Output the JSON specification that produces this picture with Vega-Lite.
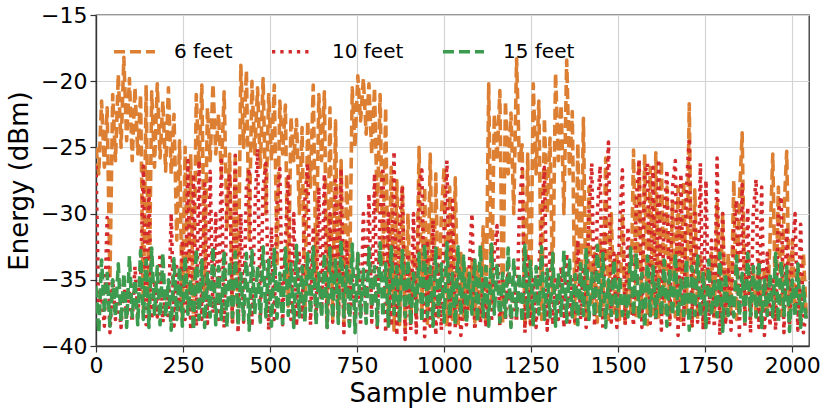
{
  "$schema": "https://vega.github.io/schema/vega-lite/v6.json",
  "description": "Received energy over samples at three distances",
  "width": 713,
  "height": 331,
  "autosize": {"type": "none"},
  "padding": {"left": 96, "top": 15, "right": 22, "bottom": 66},
  "config": {
    "font": "DejaVu Sans",
    "view": {"stroke": "#333333", "strokeWidth": 1.3},
    "axis": {
      "grid": true,
      "gridColor": "#d4d4d4",
      "gridWidth": 1.2,
      "domainColor": "#333333",
      "domainWidth": 1.3,
      "tickColor": "#333333",
      "tickSize": 6,
      "tickWidth": 1.2,
      "labelFontSize": 22,
      "labelColor": "#000000",
      "titleFontSize": 26,
      "titleFontWeight": "normal",
      "titleColor": "#000000",
      "labelOverlap": false
    },
    "legend": {"labelColor": "#000000", "labelFontWeight": "normal"}
  },
  "data": {
    "values": [
      {"f":6,"n":0,"e":-25},{"f":6,"n":8,"e":-27},{"f":6,"n":16,"e":-21.5},{"f":6,"n":24,"e":-26.5},{"f":6,"n":32,"e":-22},{"f":6,"n":40,"e":-35},{"f":6,"n":48,"e":-21},{"f":6,"n":56,"e":-26},
      {"f":6,"n":64,"e":-19.5},{"f":6,"n":72,"e":-25},{"f":6,"n":80,"e":-18.2},{"f":6,"n":88,"e":-24.5},{"f":6,"n":96,"e":-19.8},{"f":6,"n":104,"e":-26},{"f":6,"n":112,"e":-20.5},{"f":6,"n":120,"e":-25.5},
      {"f":6,"n":128,"e":-21},{"f":6,"n":136,"e":-37.5},{"f":6,"n":144,"e":-20.3},{"f":6,"n":152,"e":-38},{"f":6,"n":160,"e":-20.8},{"f":6,"n":168,"e":-26.5},{"f":6,"n":176,"e":-20.2},{"f":6,"n":184,"e":-25.8},
      {"f":6,"n":192,"e":-21.5},{"f":6,"n":200,"e":-26.8},{"f":6,"n":208,"e":-20.5},{"f":6,"n":216,"e":-27},{"f":6,"n":224,"e":-22.5},{"f":6,"n":232,"e":-32},{"f":6,"n":240,"e":-24.5},{"f":6,"n":248,"e":-38},
      {"f":6,"n":256,"e":-25},{"f":6,"n":264,"e":-37.5},{"f":6,"n":272,"e":-25.5},{"f":6,"n":280,"e":-38.2},{"f":6,"n":288,"e":-21},{"f":6,"n":296,"e":-26.5},{"f":6,"n":304,"e":-20.3},{"f":6,"n":312,"e":-36},
      {"f":6,"n":320,"e":-22},{"f":6,"n":328,"e":-26},{"f":6,"n":336,"e":-20.2},{"f":6,"n":344,"e":-25.5},{"f":6,"n":352,"e":-22.5},{"f":6,"n":360,"e":-27},{"f":6,"n":368,"e":-20.8},{"f":6,"n":376,"e":-31},
      {"f":6,"n":384,"e":-25.5},{"f":6,"n":392,"e":-38.2},{"f":6,"n":400,"e":-25.8},{"f":6,"n":408,"e":-37.8},{"f":6,"n":416,"e":-18.8},{"f":6,"n":424,"e":-25},{"f":6,"n":432,"e":-19.2},{"f":6,"n":440,"e":-32},
      {"f":6,"n":448,"e":-20},{"f":6,"n":456,"e":-25.5},{"f":6,"n":464,"e":-20.5},{"f":6,"n":472,"e":-26.5},{"f":6,"n":480,"e":-19.8},{"f":6,"n":488,"e":-30},{"f":6,"n":496,"e":-21},{"f":6,"n":504,"e":-26},
      {"f":6,"n":512,"e":-20.3},{"f":6,"n":520,"e":-34},{"f":6,"n":528,"e":-21.5},{"f":6,"n":536,"e":-25.5},{"f":6,"n":544,"e":-21.8},{"f":6,"n":552,"e":-37},{"f":6,"n":560,"e":-22.7},{"f":6,"n":568,"e":-26},
      {"f":6,"n":576,"e":-22.9},{"f":6,"n":584,"e":-30},{"f":6,"n":592,"e":-23.5},{"f":6,"n":600,"e":-38},{"f":6,"n":608,"e":-23},{"f":6,"n":616,"e":-28},{"f":6,"n":624,"e":-20.3},{"f":6,"n":632,"e":-35},
      {"f":6,"n":640,"e":-21},{"f":6,"n":648,"e":-26},{"f":6,"n":656,"e":-20.8},{"f":6,"n":664,"e":-38.2},{"f":6,"n":672,"e":-22},{"f":6,"n":680,"e":-38},{"f":6,"n":688,"e":-23},{"f":6,"n":696,"e":-37.8},
      {"f":6,"n":704,"e":-26},{"f":6,"n":712,"e":-38.4},{"f":6,"n":720,"e":-27},{"f":6,"n":728,"e":-36},{"f":6,"n":736,"e":-20.5},{"f":6,"n":744,"e":-25},{"f":6,"n":752,"e":-19.6},{"f":6,"n":760,"e":-23},
      {"f":6,"n":768,"e":-19.8},{"f":6,"n":776,"e":-24},{"f":6,"n":784,"e":-20.2},{"f":6,"n":792,"e":-25.5},{"f":6,"n":800,"e":-20.5},{"f":6,"n":808,"e":-30},{"f":6,"n":816,"e":-21},{"f":6,"n":824,"e":-34},
      {"f":6,"n":832,"e":-22},{"f":6,"n":840,"e":-38.5},{"f":6,"n":848,"e":-26.5},{"f":6,"n":856,"e":-38.8},{"f":6,"n":864,"e":-27.5},{"f":6,"n":872,"e":-38.4},{"f":6,"n":880,"e":-28},{"f":6,"n":888,"e":-38.7},
      {"f":6,"n":896,"e":-30},{"f":6,"n":904,"e":-38.2},{"f":6,"n":912,"e":-33},{"f":6,"n":920,"e":-38},{"f":6,"n":928,"e":-25},{"f":6,"n":936,"e":-37.5},{"f":6,"n":944,"e":-28},{"f":6,"n":952,"e":-38.3},
      {"f":6,"n":960,"e":-25.5},{"f":6,"n":968,"e":-38},{"f":6,"n":976,"e":-27},{"f":6,"n":984,"e":-37.8},{"f":6,"n":992,"e":-30},{"f":6,"n":1000,"e":-26.5},{"f":6,"n":1008,"e":-38.5},{"f":6,"n":1016,"e":-28},
      {"f":6,"n":1024,"e":-38},{"f":6,"n":1032,"e":-27.3},{"f":6,"n":1040,"e":-38.6},{"f":6,"n":1048,"e":-33},{"f":6,"n":1056,"e":-38},{"f":6,"n":1064,"e":-34},{"f":6,"n":1072,"e":-37.5},{"f":6,"n":1080,"e":-33.5},
      {"f":6,"n":1088,"e":-38.2},{"f":6,"n":1096,"e":-34},{"f":6,"n":1104,"e":-38},{"f":6,"n":1112,"e":-31},{"f":6,"n":1120,"e":-38.5},{"f":6,"n":1128,"e":-20.2},{"f":6,"n":1136,"e":-37},{"f":6,"n":1144,"e":-22.5},
      {"f":6,"n":1152,"e":-26},{"f":6,"n":1160,"e":-20.7},{"f":6,"n":1168,"e":-38.4},{"f":6,"n":1176,"e":-21.5},{"f":6,"n":1184,"e":-27},{"f":6,"n":1192,"e":-22.4},{"f":6,"n":1200,"e":-30},{"f":6,"n":1208,"e":-18.3},
      {"f":6,"n":1216,"e":-26},{"f":6,"n":1224,"e":-24.8},{"f":6,"n":1232,"e":-38.5},{"f":6,"n":1240,"e":-25.5},{"f":6,"n":1248,"e":-38.4},{"f":6,"n":1256,"e":-20.2},{"f":6,"n":1264,"e":-27},{"f":6,"n":1272,"e":-21.5},
      {"f":6,"n":1280,"e":-38},{"f":6,"n":1288,"e":-22.8},{"f":6,"n":1296,"e":-30},{"f":6,"n":1304,"e":-24.3},{"f":6,"n":1312,"e":-36},{"f":6,"n":1320,"e":-19.4},{"f":6,"n":1328,"e":-26},{"f":6,"n":1336,"e":-21.8},
      {"f":6,"n":1344,"e":-30},{"f":6,"n":1352,"e":-18.4},{"f":6,"n":1360,"e":-27},{"f":6,"n":1368,"e":-22.3},{"f":6,"n":1376,"e":-38.3},{"f":6,"n":1384,"e":-24.7},{"f":6,"n":1392,"e":-37.5},{"f":6,"n":1400,"e":-22.8},
      {"f":6,"n":1408,"e":-38},{"f":6,"n":1416,"e":-28},{"f":6,"n":1424,"e":-37},{"f":6,"n":1432,"e":-33},{"f":6,"n":1440,"e":-38.2},{"f":6,"n":1448,"e":-32},{"f":6,"n":1456,"e":-37.8},{"f":6,"n":1464,"e":-25.8},
      {"f":6,"n":1472,"e":-38},{"f":6,"n":1480,"e":-30},{"f":6,"n":1488,"e":-37.5},{"f":6,"n":1496,"e":-33},{"f":6,"n":1504,"e":-38},{"f":6,"n":1512,"e":-30},{"f":6,"n":1520,"e":-38.3},{"f":6,"n":1528,"e":-34},
      {"f":6,"n":1536,"e":-37.5},{"f":6,"n":1544,"e":-25.2},{"f":6,"n":1552,"e":-38},{"f":6,"n":1560,"e":-26},{"f":6,"n":1568,"e":-37.8},{"f":6,"n":1576,"e":-25.5},{"f":6,"n":1584,"e":-38.4},{"f":6,"n":1592,"e":-26.5},
      {"f":6,"n":1600,"e":-37.6},{"f":6,"n":1608,"e":-25.4},{"f":6,"n":1616,"e":-38},{"f":6,"n":1624,"e":-26},{"f":6,"n":1632,"e":-37.5},{"f":6,"n":1640,"e":-28},{"f":6,"n":1648,"e":-38},{"f":6,"n":1656,"e":-29},
      {"f":6,"n":1664,"e":-37.8},{"f":6,"n":1672,"e":-28},{"f":6,"n":1680,"e":-38.3},{"f":6,"n":1688,"e":-27.5},{"f":6,"n":1696,"e":-37.5},{"f":6,"n":1704,"e":-21.7},{"f":6,"n":1712,"e":-38.5},{"f":6,"n":1720,"e":-28.2},
      {"f":6,"n":1728,"e":-38},{"f":6,"n":1736,"e":-33},{"f":6,"n":1744,"e":-38.3},{"f":6,"n":1752,"e":-34},{"f":6,"n":1760,"e":-37.6},{"f":6,"n":1768,"e":-33},{"f":6,"n":1776,"e":-38},{"f":6,"n":1784,"e":-29.2},
      {"f":6,"n":1792,"e":-37.8},{"f":6,"n":1800,"e":-30},{"f":6,"n":1808,"e":-38.2},{"f":6,"n":1816,"e":-33},{"f":6,"n":1824,"e":-37.5},{"f":6,"n":1832,"e":-27.5},{"f":6,"n":1840,"e":-38},{"f":6,"n":1848,"e":-29},
      {"f":6,"n":1856,"e":-23.9},{"f":6,"n":1864,"e":-37.5},{"f":6,"n":1872,"e":-33},{"f":6,"n":1880,"e":-38},{"f":6,"n":1888,"e":-34},{"f":6,"n":1896,"e":-37.8},{"f":6,"n":1904,"e":-33.5},{"f":6,"n":1912,"e":-38.3},
      {"f":6,"n":1920,"e":-34},{"f":6,"n":1928,"e":-37.5},{"f":6,"n":1936,"e":-32},{"f":6,"n":1944,"e":-25.5},{"f":6,"n":1952,"e":-38},{"f":6,"n":1960,"e":-28},{"f":6,"n":1968,"e":-37.7},{"f":6,"n":1976,"e":-30},
      {"f":6,"n":1984,"e":-25.3},{"f":6,"n":1992,"e":-38.2},{"f":6,"n":2000,"e":-32},{"f":6,"n":2008,"e":-37.5},{"f":6,"n":2016,"e":-34},{"f":6,"n":2024,"e":-37.8},{"f":6,"n":2032,"e":-33},{"f":6,"n":2040,"e":-37.6},

      {"f":10,"n":0,"e":-26.4},{"f":10,"n":8,"e":-37.5},{"f":10,"n":16,"e":-36},{"f":10,"n":24,"e":-38.5},{"f":10,"n":32,"e":-30.3},{"f":10,"n":40,"e":-39},{"f":10,"n":48,"e":-35},{"f":10,"n":56,"e":-38},
      {"f":10,"n":64,"e":-36.5},{"f":10,"n":72,"e":-38.6},{"f":10,"n":80,"e":-35},{"f":10,"n":88,"e":-37.8},{"f":10,"n":96,"e":-36},{"f":10,"n":104,"e":-38.2},{"f":10,"n":112,"e":-34},{"f":10,"n":120,"e":-37.6},
      {"f":10,"n":128,"e":-35},{"f":10,"n":136,"e":-26.4},{"f":10,"n":144,"e":-38.4},{"f":10,"n":152,"e":-28},{"f":10,"n":160,"e":-38},{"f":10,"n":168,"e":-35},{"f":10,"n":176,"e":-37.8},{"f":10,"n":184,"e":-33},
      {"f":10,"n":192,"e":-38.2},{"f":10,"n":200,"e":-36},{"f":10,"n":208,"e":-38},{"f":10,"n":216,"e":-30},{"f":10,"n":224,"e":-38.5},{"f":10,"n":232,"e":-34},{"f":10,"n":240,"e":-37.5},{"f":10,"n":248,"e":-32},
      {"f":10,"n":256,"e":-38},{"f":10,"n":264,"e":-26},{"f":10,"n":272,"e":-38.8},{"f":10,"n":280,"e":-27},{"f":10,"n":288,"e":-38.5},{"f":10,"n":296,"e":-26},{"f":10,"n":304,"e":-38},{"f":10,"n":312,"e":-27.5},
      {"f":10,"n":320,"e":-38.3},{"f":10,"n":328,"e":-26.8},{"f":10,"n":336,"e":-37.5},{"f":10,"n":344,"e":-30},{"f":10,"n":352,"e":-38},{"f":10,"n":360,"e":-26},{"f":10,"n":368,"e":-38.6},{"f":10,"n":376,"e":-29},
      {"f":10,"n":384,"e":-27},{"f":10,"n":392,"e":-38.3},{"f":10,"n":400,"e":-25.6},{"f":10,"n":408,"e":-39},{"f":10,"n":416,"e":-30},{"f":10,"n":424,"e":-38.2},{"f":10,"n":432,"e":-28},{"f":10,"n":440,"e":-26.6},
      {"f":10,"n":448,"e":-38.5},{"f":10,"n":456,"e":-30},{"f":10,"n":464,"e":-25.1},{"f":10,"n":472,"e":-38},{"f":10,"n":480,"e":-28},{"f":10,"n":488,"e":-26.2},{"f":10,"n":496,"e":-38.8},{"f":10,"n":504,"e":-31},
      {"f":10,"n":512,"e":-38},{"f":10,"n":520,"e":-29},{"f":10,"n":528,"e":-26.6},{"f":10,"n":536,"e":-38.4},{"f":10,"n":544,"e":-32},{"f":10,"n":552,"e":-27.2},{"f":10,"n":560,"e":-38},{"f":10,"n":568,"e":-30},
      {"f":10,"n":576,"e":-38.5},{"f":10,"n":584,"e":-33},{"f":10,"n":592,"e":-37.8},{"f":10,"n":600,"e":-29},{"f":10,"n":608,"e":-26.2},{"f":10,"n":616,"e":-38.4},{"f":10,"n":624,"e":-31},{"f":10,"n":632,"e":-38},
      {"f":10,"n":640,"e":-28},{"f":10,"n":648,"e":-37.5},{"f":10,"n":656,"e":-27},{"f":10,"n":664,"e":-38.6},{"f":10,"n":672,"e":-30},{"f":10,"n":680,"e":-38.2},{"f":10,"n":688,"e":-27.5},{"f":10,"n":696,"e":-37.8},
      {"f":10,"n":704,"e":-26.6},{"f":10,"n":712,"e":-39},{"f":10,"n":720,"e":-32},{"f":10,"n":728,"e":-38.4},{"f":10,"n":736,"e":-35},{"f":10,"n":744,"e":-38},{"f":10,"n":752,"e":-33},{"f":10,"n":760,"e":-38.5},
      {"f":10,"n":768,"e":-30},{"f":10,"n":776,"e":-37.8},{"f":10,"n":784,"e":-28.5},{"f":10,"n":792,"e":-38.2},{"f":10,"n":800,"e":-27},{"f":10,"n":808,"e":-38.6},{"f":10,"n":816,"e":-30},{"f":10,"n":824,"e":-26.5},
      {"f":10,"n":832,"e":-39},{"f":10,"n":840,"e":-30},{"f":10,"n":848,"e":-38.5},{"f":10,"n":856,"e":-25.3},{"f":10,"n":864,"e":-39.2},{"f":10,"n":872,"e":-31},{"f":10,"n":880,"e":-27.9},{"f":10,"n":888,"e":-39.5},
      {"f":10,"n":896,"e":-33},{"f":10,"n":904,"e":-38.8},{"f":10,"n":912,"e":-30},{"f":10,"n":920,"e":-39},{"f":10,"n":928,"e":-28},{"f":10,"n":936,"e":-26.7},{"f":10,"n":944,"e":-39.3},{"f":10,"n":952,"e":-32},
      {"f":10,"n":960,"e":-38.5},{"f":10,"n":968,"e":-30.5},{"f":10,"n":976,"e":-39.2},{"f":10,"n":984,"e":-33},{"f":10,"n":992,"e":-38.8},{"f":10,"n":1000,"e":-31},{"f":10,"n":1008,"e":-26},{"f":10,"n":1016,"e":-39},
      {"f":10,"n":1024,"e":-29},{"f":10,"n":1032,"e":-38.6},{"f":10,"n":1040,"e":-33},{"f":10,"n":1048,"e":-39.2},{"f":10,"n":1056,"e":-36},{"f":10,"n":1064,"e":-38.4},{"f":10,"n":1072,"e":-34},{"f":10,"n":1080,"e":-30},
      {"f":10,"n":1088,"e":-38.8},{"f":10,"n":1096,"e":-36},{"f":10,"n":1104,"e":-38.3},{"f":10,"n":1112,"e":-35},{"f":10,"n":1120,"e":-38.6},{"f":10,"n":1128,"e":-35},{"f":10,"n":1136,"e":-38.2},{"f":10,"n":1144,"e":-33},
      {"f":10,"n":1152,"e":-30.9},{"f":10,"n":1160,"e":-38.5},{"f":10,"n":1168,"e":-35},{"f":10,"n":1176,"e":-38},{"f":10,"n":1184,"e":-34},{"f":10,"n":1192,"e":-38.4},{"f":10,"n":1200,"e":-36},{"f":10,"n":1208,"e":-38.2},
      {"f":10,"n":1216,"e":-30},{"f":10,"n":1224,"e":-26.6},{"f":10,"n":1232,"e":-39},{"f":10,"n":1240,"e":-33},{"f":10,"n":1248,"e":-38.3},{"f":10,"n":1256,"e":-35},{"f":10,"n":1264,"e":-38.6},{"f":10,"n":1272,"e":-34},
      {"f":10,"n":1280,"e":-31},{"f":10,"n":1288,"e":-26.5},{"f":10,"n":1296,"e":-38.8},{"f":10,"n":1304,"e":-33},{"f":10,"n":1312,"e":-38.4},{"f":10,"n":1320,"e":-35},{"f":10,"n":1328,"e":-38},{"f":10,"n":1336,"e":-34},
      {"f":10,"n":1344,"e":-38.6},{"f":10,"n":1352,"e":-33},{"f":10,"n":1360,"e":-38.2},{"f":10,"n":1368,"e":-35},{"f":10,"n":1376,"e":-38.4},{"f":10,"n":1384,"e":-32},{"f":10,"n":1392,"e":-38},{"f":10,"n":1400,"e":-34},
      {"f":10,"n":1408,"e":-38.6},{"f":10,"n":1416,"e":-30},{"f":10,"n":1424,"e":-26.2},{"f":10,"n":1432,"e":-38.5},{"f":10,"n":1440,"e":-30},{"f":10,"n":1448,"e":-26.4},{"f":10,"n":1456,"e":-38.8},{"f":10,"n":1464,"e":-30},
      {"f":10,"n":1472,"e":-24.6},{"f":10,"n":1480,"e":-38.2},{"f":10,"n":1488,"e":-33},{"f":10,"n":1496,"e":-38.6},{"f":10,"n":1504,"e":-31},{"f":10,"n":1512,"e":-26.7},{"f":10,"n":1520,"e":-38.4},{"f":10,"n":1528,"e":-31},
      {"f":10,"n":1536,"e":-36},{"f":10,"n":1544,"e":-38.5},{"f":10,"n":1552,"e":-29},{"f":10,"n":1560,"e":-25.9},{"f":10,"n":1568,"e":-38.6},{"f":10,"n":1576,"e":-27},{"f":10,"n":1584,"e":-26.2},{"f":10,"n":1592,"e":-38.3},
      {"f":10,"n":1600,"e":-26.5},{"f":10,"n":1608,"e":-38},{"f":10,"n":1616,"e":-25.9},{"f":10,"n":1624,"e":-38.8},{"f":10,"n":1632,"e":-30},{"f":10,"n":1640,"e":-26.7},{"f":10,"n":1648,"e":-38.4},{"f":10,"n":1656,"e":-28},
      {"f":10,"n":1664,"e":-26},{"f":10,"n":1672,"e":-39.2},{"f":10,"n":1680,"e":-27},{"f":10,"n":1688,"e":-38.5},{"f":10,"n":1696,"e":-28},{"f":10,"n":1704,"e":-24.3},{"f":10,"n":1712,"e":-38.6},{"f":10,"n":1720,"e":-30},
      {"f":10,"n":1728,"e":-38.2},{"f":10,"n":1736,"e":-26.2},{"f":10,"n":1744,"e":-38.8},{"f":10,"n":1752,"e":-27.5},{"f":10,"n":1760,"e":-38.4},{"f":10,"n":1768,"e":-32},{"f":10,"n":1776,"e":-38.6},{"f":10,"n":1784,"e":-25.8},
      {"f":10,"n":1792,"e":-39.2},{"f":10,"n":1800,"e":-30},{"f":10,"n":1808,"e":-38.4},{"f":10,"n":1816,"e":-34},{"f":10,"n":1824,"e":-38.8},{"f":10,"n":1832,"e":-31},{"f":10,"n":1840,"e":-29},{"f":10,"n":1848,"e":-39.2},
      {"f":10,"n":1856,"e":-27.8},{"f":10,"n":1864,"e":-38.5},{"f":10,"n":1872,"e":-29.5},{"f":10,"n":1880,"e":-39},{"f":10,"n":1888,"e":-30},{"f":10,"n":1896,"e":-27.4},{"f":10,"n":1904,"e":-38.6},{"f":10,"n":1912,"e":-28},
      {"f":10,"n":1920,"e":-39.2},{"f":10,"n":1928,"e":-33},{"f":10,"n":1936,"e":-38.5},{"f":10,"n":1944,"e":-35},{"f":10,"n":1952,"e":-38.8},{"f":10,"n":1960,"e":-30},{"f":10,"n":1968,"e":-28.7},{"f":10,"n":1976,"e":-39},
      {"f":10,"n":1984,"e":-31},{"f":10,"n":1992,"e":-38.5},{"f":10,"n":2000,"e":-33},{"f":10,"n":2008,"e":-30},{"f":10,"n":2016,"e":-38.8},{"f":10,"n":2024,"e":-30.8},{"f":10,"n":2032,"e":-39},{"f":10,"n":2040,"e":-37.5},

      {"f":15,"n":0,"e":-35.5},{"f":15,"n":8,"e":-39},{"f":15,"n":16,"e":-33.5},{"f":15,"n":24,"e":-37.5},{"f":15,"n":32,"e":-34.5},{"f":15,"n":40,"e":-38.5},{"f":15,"n":48,"e":-35},{"f":15,"n":56,"e":-37.8},
      {"f":15,"n":64,"e":-33.8},{"f":15,"n":72,"e":-38.2},{"f":15,"n":80,"e":-34.5},{"f":15,"n":88,"e":-38.6},{"f":15,"n":96,"e":-33.2},{"f":15,"n":104,"e":-37.8},{"f":15,"n":112,"e":-35},{"f":15,"n":120,"e":-38.4},
      {"f":15,"n":128,"e":-32.8},{"f":15,"n":136,"e":-38},{"f":15,"n":144,"e":-33.5},{"f":15,"n":152,"e":-38.6},{"f":15,"n":160,"e":-32.6},{"f":15,"n":168,"e":-37.6},{"f":15,"n":176,"e":-34},{"f":15,"n":184,"e":-38.4},
      {"f":15,"n":192,"e":-33},{"f":15,"n":200,"e":-37.8},{"f":15,"n":208,"e":-35},{"f":15,"n":216,"e":-38.8},{"f":15,"n":224,"e":-33.4},{"f":15,"n":232,"e":-38},{"f":15,"n":240,"e":-34},{"f":15,"n":248,"e":-38.5},
      {"f":15,"n":256,"e":-33.2},{"f":15,"n":264,"e":-37.6},{"f":15,"n":272,"e":-35},{"f":15,"n":280,"e":-38.8},{"f":15,"n":288,"e":-32.7},{"f":15,"n":296,"e":-38},{"f":15,"n":304,"e":-33.5},{"f":15,"n":312,"e":-38.6},
      {"f":15,"n":320,"e":-34.5},{"f":15,"n":328,"e":-37.8},{"f":15,"n":336,"e":-32.5},{"f":15,"n":344,"e":-38.4},{"f":15,"n":352,"e":-34},{"f":15,"n":360,"e":-38},{"f":15,"n":368,"e":-32.8},{"f":15,"n":376,"e":-38.6},
      {"f":15,"n":384,"e":-33.6},{"f":15,"n":392,"e":-37.8},{"f":15,"n":400,"e":-32.9},{"f":15,"n":408,"e":-38.4},{"f":15,"n":416,"e":-34.5},{"f":15,"n":424,"e":-38},{"f":15,"n":432,"e":-33},{"f":15,"n":440,"e":-38.8},
      {"f":15,"n":448,"e":-32.8},{"f":15,"n":456,"e":-37.6},{"f":15,"n":464,"e":-34},{"f":15,"n":472,"e":-38.2},{"f":15,"n":480,"e":-32.5},{"f":15,"n":488,"e":-37.8},{"f":15,"n":496,"e":-33.5},{"f":15,"n":504,"e":-38.5},
      {"f":15,"n":512,"e":-32.7},{"f":15,"n":520,"e":-37.9},{"f":15,"n":528,"e":-34.5},{"f":15,"n":536,"e":-38.3},{"f":15,"n":544,"e":-32.6},{"f":15,"n":552,"e":-37.7},{"f":15,"n":560,"e":-33.8},{"f":15,"n":568,"e":-38.6},
      {"f":15,"n":576,"e":-32.4},{"f":15,"n":584,"e":-37.8},{"f":15,"n":592,"e":-34},{"f":15,"n":600,"e":-38.2},{"f":15,"n":608,"e":-33},{"f":15,"n":616,"e":-37.6},{"f":15,"n":624,"e":-32.5},{"f":15,"n":632,"e":-38.4},
      {"f":15,"n":640,"e":-34.5},{"f":15,"n":648,"e":-37.8},{"f":15,"n":656,"e":-33},{"f":15,"n":664,"e":-38.6},{"f":15,"n":672,"e":-32.6},{"f":15,"n":680,"e":-37.9},{"f":15,"n":688,"e":-33.5},{"f":15,"n":696,"e":-38.3},
      {"f":15,"n":704,"e":-32},{"f":15,"n":712,"e":-37.8},{"f":15,"n":720,"e":-34},{"f":15,"n":728,"e":-38.5},{"f":15,"n":736,"e":-32.3},{"f":15,"n":744,"e":-39},{"f":15,"n":752,"e":-33},{"f":15,"n":760,"e":-37.8},
      {"f":15,"n":768,"e":-34.2},{"f":15,"n":776,"e":-38.3},{"f":15,"n":784,"e":-32.6},{"f":15,"n":792,"e":-37.7},{"f":15,"n":800,"e":-34},{"f":15,"n":808,"e":-38.4},{"f":15,"n":816,"e":-32.2},{"f":15,"n":824,"e":-37.8},
      {"f":15,"n":832,"e":-33.8},{"f":15,"n":840,"e":-38.5},{"f":15,"n":848,"e":-32.5},{"f":15,"n":856,"e":-37.6},{"f":15,"n":864,"e":-34},{"f":15,"n":872,"e":-38.2},{"f":15,"n":880,"e":-32.8},{"f":15,"n":888,"e":-37.8},
      {"f":15,"n":896,"e":-33.5},{"f":15,"n":904,"e":-38.4},{"f":15,"n":912,"e":-34.5},{"f":15,"n":920,"e":-37.6},{"f":15,"n":928,"e":-33},{"f":15,"n":936,"e":-38.2},{"f":15,"n":944,"e":-32.3},{"f":15,"n":952,"e":-37.8},
      {"f":15,"n":960,"e":-34},{"f":15,"n":968,"e":-38.5},{"f":15,"n":976,"e":-32.6},{"f":15,"n":984,"e":-37.7},{"f":15,"n":992,"e":-33.8},{"f":15,"n":1000,"e":-38.2},{"f":15,"n":1008,"e":-32.2},{"f":15,"n":1016,"e":-37.8},
      {"f":15,"n":1024,"e":-34.5},{"f":15,"n":1032,"e":-38.4},{"f":15,"n":1040,"e":-32.5},{"f":15,"n":1048,"e":-37.7},{"f":15,"n":1056,"e":-33.2},{"f":15,"n":1064,"e":-38.3},{"f":15,"n":1072,"e":-34.5},{"f":15,"n":1080,"e":-37.6},
      {"f":15,"n":1088,"e":-33.5},{"f":15,"n":1096,"e":-38.2},{"f":15,"n":1104,"e":-32.4},{"f":15,"n":1112,"e":-37.8},{"f":15,"n":1120,"e":-34},{"f":15,"n":1128,"e":-38.5},{"f":15,"n":1136,"e":-32.3},{"f":15,"n":1144,"e":-37.6},
      {"f":15,"n":1152,"e":-33.8},{"f":15,"n":1160,"e":-38.2},{"f":15,"n":1168,"e":-34.5},{"f":15,"n":1176,"e":-37.8},{"f":15,"n":1184,"e":-32.6},{"f":15,"n":1192,"e":-38.6},{"f":15,"n":1200,"e":-33.5},{"f":15,"n":1208,"e":-37.7},
      {"f":15,"n":1216,"e":-34.5},{"f":15,"n":1224,"e":-38.2},{"f":15,"n":1232,"e":-32.4},{"f":15,"n":1240,"e":-37.8},{"f":15,"n":1248,"e":-33.6},{"f":15,"n":1256,"e":-38.4},{"f":15,"n":1264,"e":-34},{"f":15,"n":1272,"e":-37.6},
      {"f":15,"n":1280,"e":-32.5},{"f":15,"n":1288,"e":-38},{"f":15,"n":1296,"e":-34.2},{"f":15,"n":1304,"e":-37.8},{"f":15,"n":1312,"e":-33},{"f":15,"n":1320,"e":-38.5},{"f":15,"n":1328,"e":-34.5},{"f":15,"n":1336,"e":-37.7},
      {"f":15,"n":1344,"e":-32.8},{"f":15,"n":1352,"e":-38.2},{"f":15,"n":1360,"e":-33.5},{"f":15,"n":1368,"e":-37.8},{"f":15,"n":1376,"e":-34.6},{"f":15,"n":1384,"e":-38.4},{"f":15,"n":1392,"e":-33.8},{"f":15,"n":1400,"e":-37.7},
      {"f":15,"n":1408,"e":-32.6},{"f":15,"n":1416,"e":-38},{"f":15,"n":1424,"e":-34.5},{"f":15,"n":1432,"e":-37.8},{"f":15,"n":1440,"e":-32.4},{"f":15,"n":1448,"e":-37.7},{"f":15,"n":1456,"e":-33},{"f":15,"n":1464,"e":-38.6},
      {"f":15,"n":1472,"e":-35},{"f":15,"n":1480,"e":-37.7},{"f":15,"n":1488,"e":-33.5},{"f":15,"n":1496,"e":-37.8},{"f":15,"n":1504,"e":-34.8},{"f":15,"n":1512,"e":-37.7},{"f":15,"n":1520,"e":-36},{"f":15,"n":1528,"e":-37.8},
      {"f":15,"n":1536,"e":-32.6},{"f":15,"n":1544,"e":-37.7},{"f":15,"n":1552,"e":-33},{"f":15,"n":1560,"e":-37.8},{"f":15,"n":1568,"e":-34.5},{"f":15,"n":1576,"e":-38.6},{"f":15,"n":1584,"e":-33.2},{"f":15,"n":1592,"e":-37.7},
      {"f":15,"n":1600,"e":-34},{"f":15,"n":1608,"e":-37.8},{"f":15,"n":1616,"e":-35},{"f":15,"n":1624,"e":-37.7},{"f":15,"n":1632,"e":-33.5},{"f":15,"n":1640,"e":-38.5},{"f":15,"n":1648,"e":-34.2},{"f":15,"n":1656,"e":-37.7},
      {"f":15,"n":1664,"e":-33},{"f":15,"n":1672,"e":-37.8},{"f":15,"n":1680,"e":-35},{"f":15,"n":1688,"e":-37.7},{"f":15,"n":1696,"e":-33.4},{"f":15,"n":1704,"e":-38.8},{"f":15,"n":1712,"e":-34},{"f":15,"n":1720,"e":-37.7},
      {"f":15,"n":1728,"e":-33.2},{"f":15,"n":1736,"e":-37.8},{"f":15,"n":1744,"e":-34.5},{"f":15,"n":1752,"e":-38.6},{"f":15,"n":1760,"e":-33.5},{"f":15,"n":1768,"e":-37.7},{"f":15,"n":1776,"e":-35},{"f":15,"n":1784,"e":-37.8},
      {"f":15,"n":1792,"e":-33},{"f":15,"n":1800,"e":-38.9},{"f":15,"n":1808,"e":-34.5},{"f":15,"n":1816,"e":-37.7},{"f":15,"n":1824,"e":-36},{"f":15,"n":1832,"e":-37.8},{"f":15,"n":1840,"e":-33.2},{"f":15,"n":1848,"e":-37.7},
      {"f":15,"n":1856,"e":-34.5},{"f":15,"n":1864,"e":-38.4},{"f":15,"n":1872,"e":-33},{"f":15,"n":1880,"e":-37.7},{"f":15,"n":1888,"e":-34},{"f":15,"n":1896,"e":-37.8},{"f":15,"n":1904,"e":-33.6},{"f":15,"n":1912,"e":-38.6},
      {"f":15,"n":1920,"e":-35},{"f":15,"n":1928,"e":-37.7},{"f":15,"n":1936,"e":-34.5},{"f":15,"n":1944,"e":-37.8},{"f":15,"n":1952,"e":-33},{"f":15,"n":1960,"e":-38.2},{"f":15,"n":1968,"e":-33.6},{"f":15,"n":1976,"e":-37.7},
      {"f":15,"n":1984,"e":-34},{"f":15,"n":1992,"e":-38.9},{"f":15,"n":2000,"e":-35},{"f":15,"n":2008,"e":-37.8},{"f":15,"n":2016,"e":-33.8},{"f":15,"n":2024,"e":-38.6},{"f":15,"n":2032,"e":-35.5},{"f":15,"n":2040,"e":-38}
    ]
  },
  "encoding": {
    "x": {
      "field": "n",
      "type": "quantitative",
      "title": "Sample number",
      "scale": {"domain": [0, 2048], "nice": false, "zero": false},
      "axis": {"values": [0, 250, 500, 750, 1000, 1250, 1500, 1750, 2000], "format": "d", "labelFlush": false, "labelPadding": 3, "titlePadding": 4}
    },
    "y": {
      "field": "e",
      "type": "quantitative",
      "title": "Energy (dBm)",
      "scale": {"domain": [-40, -15], "nice": false, "zero": false},
      "axis": {"values": [-40, -35, -30, -25, -20, -15], "labelPadding": 3, "titlePadding": 8}
    },
    "color": {
      "field": "f",
      "type": "nominal",
      "scale": {"domain": [6, 10, 15], "range": ["#dd7f33", "#d42a2c", "#3d9b4f"]},
      "legend": {
        "title": null,
        "orient": "none",
        "legendX": 16,
        "legendY": 14,
        "direction": "horizontal",
        "symbolType": "stroke",
        "symbolSize": 1681,
        "symbolStrokeWidth": 3.6,
        "labelFontSize": 20,
        "labelOffset": 17,
        "columnPadding": 31,
        "labelExpr": "datum.label + ' feet'"
      }
    },
    "strokeDash": {
      "field": "f",
      "type": "nominal",
      "scale": {"domain": [6, 10, 15], "range": [[11, 5], [3.3, 5], [11, 5]]},
      "legend": {
        "title": null,
        "orient": "none",
        "legendX": 16,
        "legendY": 14,
        "direction": "horizontal",
        "symbolType": "stroke",
        "symbolSize": 1681,
        "symbolStrokeWidth": 3.6,
        "labelFontSize": 20,
        "labelOffset": 17,
        "columnPadding": 31,
        "labelExpr": "datum.label + ' feet'"
      }
    }
  },
  "layer": [
    {"transform": [{"filter": "datum.f == 6"}], "mark": {"type": "line", "strokeWidth": 3.6, "strokeJoin": "round", "clip": true}},
    {"transform": [{"filter": "datum.f == 10"}], "mark": {"type": "line", "strokeWidth": 3.6, "strokeJoin": "round", "clip": true}},
    {"transform": [{"filter": "datum.f == 15"}], "mark": {"type": "line", "strokeWidth": 3.6, "strokeJoin": "round", "clip": true}}
  ]
}
